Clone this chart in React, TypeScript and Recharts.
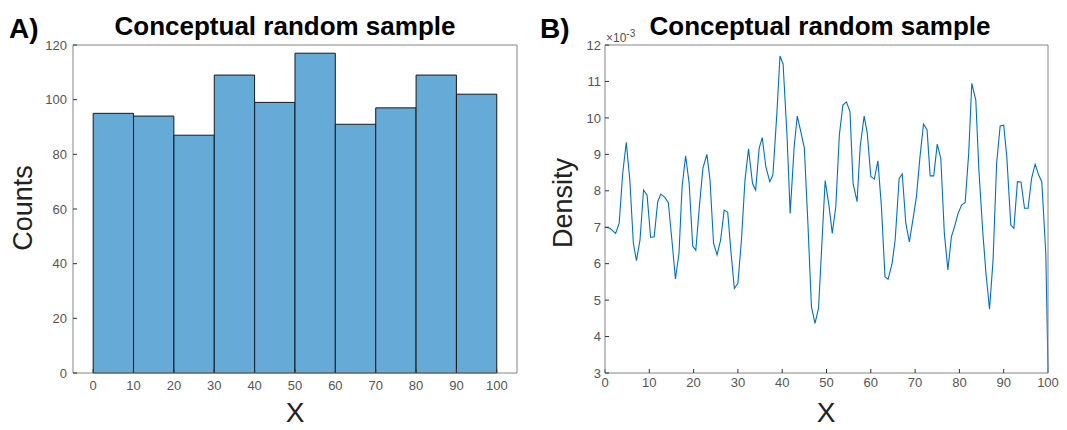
import React from 'react';
import { BarChart, Bar, LineChart, Line, XAxis, YAxis } from 'recharts';

// Histogram (panel A): bin centres and counts, bins are 10 wide
const binCenters = [5, 15, 25, 35, 45, 55, 65, 75, 85, 95];
const binCounts = [95, 94, 87, 109, 99, 117, 91, 97, 109, 102];
const histXTicks = [0, 10, 20, 30, 40, 50, 60, 70, 80, 90, 100];
const histYTicks = [0, 20, 40, 60, 80, 100, 120];

// Density curve (panel B), values in units of 1e-3
const densityX = [
  0, 1.1, 2.4, 3.2, 4.0, 4.8, 5.6, 6.4, 7.1, 7.9, 8.7, 9.5, 10.3, 11.1, 11.9, 12.6, 13.5, 14.3, 15.1, 15.9,
  16.7, 17.4, 18.2, 19.0, 19.8, 20.5, 21.3, 22.1, 23.0, 23.7, 24.5, 25.3, 26.1, 26.9, 27.7, 28.4, 29.2, 30.0,
  30.8, 31.6, 32.4, 33.3, 34.0, 34.8, 35.5, 36.3, 37.2, 37.9, 38.8, 39.5, 40.2, 41.1, 41.8, 42.7, 43.4, 44.2,
  45.0, 45.8, 46.6, 47.4, 48.2, 49.0, 49.7, 50.6, 51.3, 52.1, 52.9, 53.7, 54.5, 55.3, 56.0, 56.9, 57.6, 58.5,
  59.2, 60.0, 60.8, 61.6, 62.4, 63.2, 63.9, 64.8, 65.5, 66.4, 67.1, 67.9, 68.7, 69.5, 70.3, 71.1, 71.9, 72.7,
  73.4, 74.2, 75.0, 75.8, 76.6, 77.4, 78.2, 78.9, 79.7, 80.5, 81.3, 82.1, 82.8, 83.7, 84.4, 85.3, 86.0, 86.8,
  87.6, 88.4, 89.2, 90.0, 90.7, 91.6, 92.3, 93.1, 93.9, 94.7, 95.5, 96.3, 97.1, 97.9, 98.6, 99.5, 100,
];
const densityE3 = [
  7.0, 6.97, 6.83, 7.11, 8.48, 9.33, 8.3, 6.56, 6.08, 6.65, 8.02, 7.88, 6.72, 6.74, 7.7, 7.91, 7.82, 7.67, 6.65, 5.58,
  6.28, 8.11, 8.96, 8.2, 6.48, 6.37, 7.56, 8.62, 9.0, 8.3, 6.56, 6.24, 6.65, 7.47, 7.41, 6.37, 5.32, 5.46,
  6.65, 8.3, 9.15, 8.2, 8.02, 9.17, 9.46, 8.66, 8.25, 8.43, 10.13, 11.7, 11.48, 9.48, 7.38, 9.21, 10.05, 9.62,
  9.17, 7.11, 4.82, 4.36, 4.77, 6.65, 8.28, 7.56, 6.83, 7.56, 9.53, 10.35, 10.44, 10.17, 8.2, 7.7, 9.21, 10.05,
  9.58, 8.39, 8.32, 8.82, 7.56, 5.64, 5.57, 6.0, 6.65, 8.34, 8.46, 7.11, 6.6, 7.2, 7.84, 8.93, 9.83, 9.67,
  8.41, 8.41, 9.28, 8.89, 6.83, 5.83, 6.74, 7.01, 7.38, 7.61, 7.68, 9.03, 10.95, 10.49, 8.57, 6.83, 5.73, 4.75,
  6.1, 8.75, 9.78, 9.8, 8.93, 7.06, 6.97, 8.25, 8.24, 7.52, 7.52, 8.34, 8.73, 8.43, 8.25, 6.28, 3.1,
];
const densityYTicks = [3, 4, 5, 6, 7, 8, 9, 10, 11, 12];

const histData = binCenters.map((x, i) => ({ x, count: binCounts[i] }));
const densityData = densityX.map((x, i) => ({ x, d: densityE3[i] }));

const FONT = 'Arial, "Liberation Sans", Helvetica, sans-serif';
const AXIS = '#858585';
const TICK_TEXT = { fontSize: 13, fill: '#555', fontFamily: FONT };

const abs = (s: React.CSSProperties): React.CSSProperties => ({ position: 'absolute', fontFamily: FONT, color: '#000', whiteSpace: 'nowrap', lineHeight: 1, ...s });

function Title({ cx, text }: { cx: number; text: string }) {
  return <div style={abs({ left: cx, top: 13, transform: 'translateX(-50%)', fontSize: 26, fontWeight: 700 })}>{text}</div>;
}

function YLabel({ cx, cy, text }: { cx: number; cy: number; text: string }) {
  return (
    <div style={abs({ left: cx, top: cy, transform: 'translate(-50%, -50%) rotate(-90deg)', fontSize: 27, color: '#222' })}>
      {text}
    </div>
  );
}

function XLabel({ cx }: { cx: number }) {
  return <div style={abs({ left: cx, top: 399, transform: 'translateX(-50%)', fontSize: 28, color: '#222' })}>X</div>;
}

export default function App() {
  return (
    <div style={{ position: 'absolute', left: 0, top: 0, width: 1067, height: 430, background: '#fff', overflow: 'hidden' }}>
      {/* Panel A: histogram */}
      <div style={{ position: 'absolute', left: 0, top: 0 }}>
        <BarChart
          width={540}
          height={430}
          data={histData}
          barCategoryGap={0}
          barGap={0}
          margin={{ top: 44, right: 22, bottom: 27, left: 33 }}
        >
          <XAxis
            dataKey="x"
            type="number"
            domain={[-5, 105]}
            ticks={histXTicks}
            allowDataOverflow
            height={30}
            tickSize={-4}
            tickMargin={12}
            tick={TICK_TEXT}
            axisLine={{ stroke: AXIS }}
            tickLine={{ stroke: '#333' }}
          />
          <XAxis
            xAxisId="top"
            orientation="top"
            type="number"
            domain={[-5, 105]}
            ticks={histXTicks}
            allowDataOverflow
            height={1}
            tickSize={-4}
            tick={false}
            axisLine={{ stroke: AXIS }}
            tickLine={{ stroke: '#333' }}
          />
          <YAxis
            type="number"
            domain={[0, 120]}
            ticks={histYTicks}
            width={40}
            tickSize={-4}
            tickMargin={10}
            tick={TICK_TEXT}
            axisLine={{ stroke: AXIS }}
            tickLine={{ stroke: '#333' }}
          />
          <YAxis
            yAxisId="right"
            orientation="right"
            type="number"
            domain={[0, 120]}
            ticks={histYTicks}
            width={1}
            tickSize={-4}
            tick={false}
            axisLine={{ stroke: AXIS }}
            tickLine={{ stroke: '#333' }}
          />
          {/* barSize must stay just below the 10-unit band (~40.36px) or recharts falls back to 90% */}
          <Bar dataKey="count" barSize={40.3} fill="#66aad7" stroke="#1a1a1a" strokeWidth={1} isAnimationActive={false} />
        </BarChart>
      </div>

      {/* Panel B: density line */}
      <div style={{ position: 'absolute', left: 540, top: 0 }}>
        <LineChart width={527} height={430} data={densityData} margin={{ top: 44, right: 18, bottom: 27, left: 25 }}>
          <XAxis
            dataKey="x"
            type="number"
            domain={[0, 100]}
            ticks={histXTicks}
            height={30}
            tickSize={-4}
            tickMargin={9}
            tick={TICK_TEXT}
            axisLine={{ stroke: AXIS }}
            tickLine={{ stroke: '#333' }}
          />
          <XAxis
            xAxisId="top"
            orientation="top"
            type="number"
            domain={[0, 100]}
            ticks={histXTicks}
            height={1}
            tickSize={-4}
            tick={false}
            axisLine={{ stroke: AXIS }}
            tickLine={{ stroke: '#333' }}
          />
          <YAxis
            type="number"
            domain={[3, 12]}
            ticks={densityYTicks}
            width={40}
            tickSize={-4}
            tickMargin={8}
            tick={TICK_TEXT}
            axisLine={{ stroke: AXIS }}
            tickLine={{ stroke: '#333' }}
          />
          <YAxis
            yAxisId="right"
            orientation="right"
            type="number"
            domain={[3, 12]}
            ticks={densityYTicks}
            width={1}
            tickSize={-4}
            tick={false}
            axisLine={{ stroke: AXIS }}
            tickLine={{ stroke: '#333' }}
          />
          <Line type="linear" dataKey="d" stroke="#0072bd" strokeWidth={1.1} dot={false} isAnimationActive={false} />
        </LineChart>
      </div>

      {/* Text overlays */}
      <div style={abs({ left: 9, top: 15, fontSize: 28, fontWeight: 700 })}>A)</div>
      <div style={abs({ left: 540, top: 15, fontSize: 28, fontWeight: 700 })}>B)</div>
      <Title cx={285} text="Conceptual random sample" />
      <Title cx={820} text="Conceptual random sample" />
      <YLabel cx={23} cy={208} text="Counts" />
      <YLabel cx={563} cy={203} text="Density" />
      <XLabel cx={295} />
      <XLabel cx={826} />
      <div style={abs({ left: 606, top: 32, fontSize: 12, color: '#505050' })}>
        ×10<sup style={{ fontSize: 10, verticalAlign: 'super', lineHeight: 0 }}>-3</sup>
      </div>
    </div>
  );
}
